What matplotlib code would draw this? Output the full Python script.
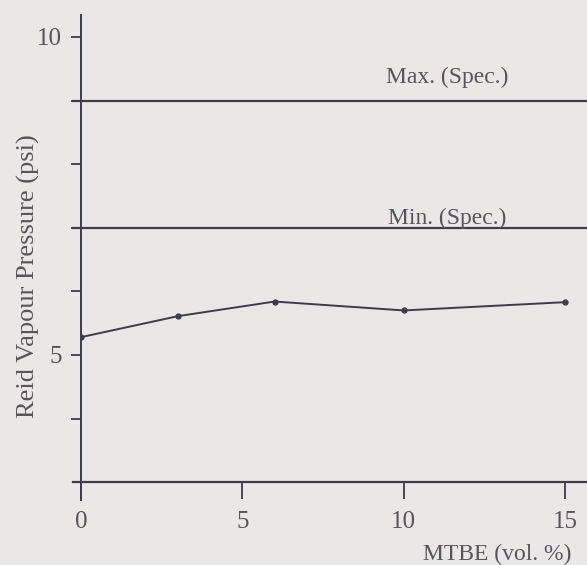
import matplotlib.pyplot as plt

# Reid vapour pressure of blends vs MTBE content
mtbe = [0, 3, 6, 10, 15]
rvp = [5.28, 5.61, 5.84, 5.70, 5.83]

# specification limits (psi)
spec_max = 9.0
spec_min = 7.0
base_level = 3.0

bg = '#ebe7e6'
ink = '#3c3c4c'
txt = '#55555c'

plt.rcParams['font.family'] = ['Liberation Serif', 'DejaVu Serif']

fig = plt.figure(figsize=(5.87, 5.65), dpi=100, facecolor=bg)
ax = fig.add_axes([0.138, 0.115, 0.862, 0.858])
ax.set_facecolor(bg)

ax.set_xlim(0, 15.68)
ax.set_ylim(2.72, 10.34)

# horizontal reference lines, starting a little left of the y axis
for lvl in [spec_max, spec_min, base_level]:
    ax.plot([-0.25, 15.68], [lvl, lvl], color=ink, lw=1.6, clip_on=False)

ax.plot(mtbe, rvp, color=ink, lw=1.4, marker='o', markersize=3.5)

ax.text(11.35, spec_max + 0.36, 'Max. (Spec.)', fontsize=17, color=txt, ha='center', va='center')
ax.text(11.35, spec_min + 0.14, 'Min. (Spec.)', fontsize=17, color=txt, ha='center', va='center')

for s in ['top', 'right']:
    ax.spines[s].set_visible(False)
ax.spines['bottom'].set_position(('data', base_level))
ax.spines['bottom'].set_visible(False)
ax.spines['left'].set_color(ink)
ax.spines['left'].set_linewidth(1.4)

ax.set_xticks([0, 5, 10, 15])
ax.set_xticklabels(['0', '5', '10', '15'])
ax.set_yticks([4, 5, 6, 7, 8, 9, 10])
ax.set_yticklabels(['', '5', '', '', '', '', '10'])
ax.tick_params(axis='x', direction='out', length=12, width=1.3, color=ink,
               labelsize=18, labelcolor=txt, pad=9)
ax.tick_params(axis='y', direction='out', length=7, width=1.3, color=ink,
               labelsize=18, labelcolor=txt, pad=7)

ax.set_ylabel('Reid Vapour Pressure (psi)', fontsize=19, color=txt)
ax.yaxis.set_label_coords(-0.082, 0.462)
ax.set_xlabel('MTBE (vol. %)', fontsize=17, color=txt, va='center')
ax.xaxis.set_label_coords(0.823, -0.112)

fig.savefig('out.png', dpi=100, facecolor=bg)
